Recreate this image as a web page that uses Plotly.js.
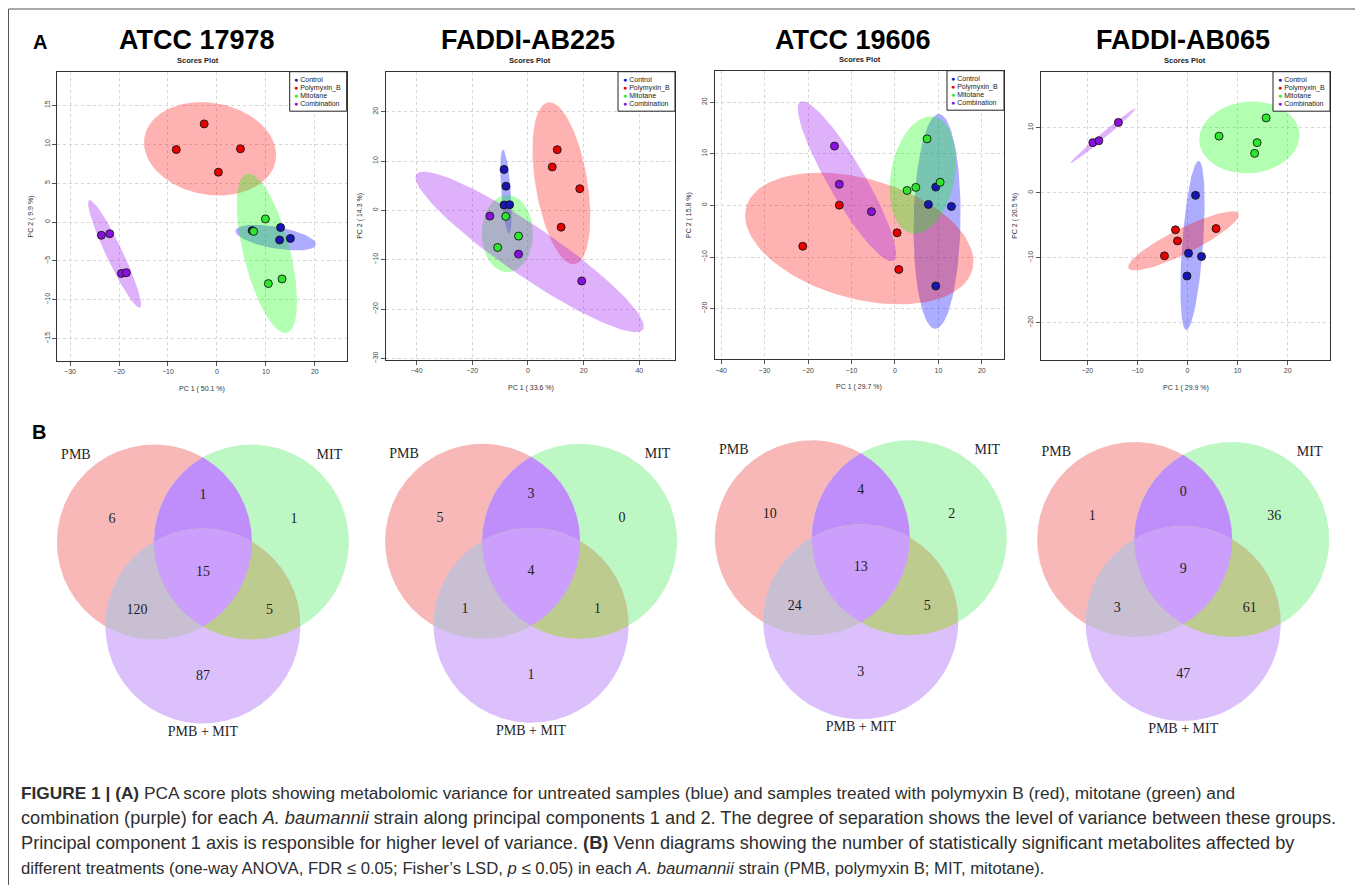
<!DOCTYPE html>
<html><head><meta charset="utf-8">
<script src="https://cdn.plot.ly/plotly-3.0.1.min.js"></script>
<style>html,body{margin:0;padding:0;background:#fff}#chart{width:1355px;height:885px}</style>
</head><body><div id="chart"></div>
<script>
const W = 1355, H = 885;

// ---------- DATA ----------
const strains = ["ATCC 17978", "FADDI-AB225", "ATCC 19606", "FADDI-AB065"];
const groups = ["Control", "Polymyxin_B", "Mitotane", "Combination"];
const pc1Titles = ["PC 1 ( 50.1 %)", "PC 1 ( 33.6 %)", "PC 1 ( 29.7 %)", "PC 1 ( 29.9 %)"];
const pc2Titles = ["PC 2 ( 9.9 %)", "PC 2 ( 14.3 %)", "PC 2 ( 15.8 %)", "PC 2 ( 20.5 %)"];

// PCA scores, per group [Control, Polymyxin_B, Mitotane, Combination]
const pc1_17978 = [[7.2, 13.0, 12.8, 15.0], [-8.3, -2.6, 4.8, 0.3], [9.9, 7.5, 10.5, 13.3], [-23.6, -21.9, -19.5, -18.5]];
const pc2_17978 = [[-1.1, -0.7, -2.3, -2.1], [9.3, 12.6, 9.4, 6.4], [0.4, -1.2, -7.9, -7.3], [-1.7, -1.5, -6.6, -6.5]];
const pc1_AB225 = [[-8.6, -7.9, -8.6, -6.6], [10.5, 8.7, 18.6, 11.9], [-8.0, -3.4, -10.9], [-13.7, -3.4, 19.3]];
const pc2_AB225 = [[8.3, 4.9, 1.1, 1.15], [12.3, 8.8, 4.4, -3.4], [-1.2, -5.2, -7.5], [-1.15, -8.85, -14.3]];
const pc1_19606 = [[9.4, 7.7, 13.0, 9.4], [-12.8, -21.2, 0.5, 0.9], [7.4, 2.8, 4.8, 10.4], [-13.9, -12.8, -5.4]];
const pc2_19606 = [[3.55, 0.2, -0.2, -15.6], [0.06, -7.9, -5.3, -12.4], [12.9, 2.9, 3.5, 4.5], [11.5, 4.1, -1.2]];
const pc1_AB065 = [[1.6, 0.2, 2.8, -0.1], [-2.4, -2.0, -4.6, 5.7], [6.3, 15.7, 13.9, 13.4], [-18.9, -17.7, -13.8]];
const pc2_AB065 = [[-0.4, -9.3, -9.8, -12.8], [-5.7, -7.4, -9.7, -5.5], [8.7, 11.5, 7.7, 6.05], [7.7, 8.0, 10.8]];

// 95% confidence ellipses per group: [centre x, centre y, axis1 x, axis1 y, axis2 x, axis2 y]
const ell_17978 = [[12.0, -2.0, 8.2, -0.9, -0.37, -1.37], [-1.4, 9.4, 13.4, -1.5, -1.6, -5.8], [10.2, -4.0, 4.1, -10.2, 4.6, 0.75], [-20.9, -4.1, 5.2, -6.9, 1.5, 0.48]];
const ell_AB225 = [[-7.9, 3.8, 1.1, -8.5, 1.7, 0.1], [12.0, 5.5, 4.8, -16.4, 9.2, 0.86], [-7.4, -4.7, 9.2, 0, 0, -7.8], [0.6, -8.4, 40.7, -15.7, -5.0, -4.2]];
const ell_19606 = [[9.7, -3.1, 0.4, 20.8, 5.4, 0], [-8.2, -6.4, 26.0, -6.1, -3.7, -11.2], [6.4, 5.9, 2.5, 11.3, 7.2, -1.1], [-11.05, 4.7, 10.7, -15.4, 3.6, 1.8]];
const ell_AB065 = [[1.0, -8.1, 1.2, 13.0, 2.1, 0.15], [-0.8, -7.4, 11.0, 4.2, 1.1, -1.74], [12.35, 8.5, 10.0, 0.5, -0.3, 5.5], [-16.8, 8.8, 6.5, 4.2, 0.35, -0.31]];

// Venn diagrams
const vennSets = ["PMB", "MIT", "PMB + MIT"];
// counts: [PMB only, PMB∩MIT, MIT only, all three, PMB∩(PMB+MIT), MIT∩(PMB+MIT), (PMB+MIT) only]
const venn_17978 = [6, 1, 1, 15, 120, 5, 87];
const venn_AB225 = [5, 3, 0, 4, 1, 1, 1];
const venn_19606 = [10, 4, 2, 13, 24, 5, 3];
const venn_AB065 = [1, 0, 36, 9, 3, 61, 47];

// ---------- LAYOUT / STYLE ----------
const pc1All = [pc1_17978, pc1_AB225, pc1_19606, pc1_AB065];
const pc2All = [pc2_17978, pc2_AB225, pc2_19606, pc2_AB065];
const ellAll = [ell_17978, ell_AB225, ell_19606, ell_AB065];
const vennAll = [venn_17978, venn_AB225, venn_19606, venn_AB065];

const boxes = [
  {l: 57.3, r: 346.7, t: 71.7, b: 360.7, xr: [-32.6, 26.5], yr: [-17.8, 19.3], dx: 10, dy: 5},
  {l: 386, r: 675, t: 71.7, b: 360, xr: [-51, 52.8], yr: [-30.3, 28.1], dx: 20, dy: 10},
  {l: 715, r: 1004, t: 70.7, b: 359.3, xr: [-41.4, 25.1], yr: [-29.8, 26.1], dx: 10, dy: 10},
  {l: 1041, r: 1330, t: 71.7, b: 360, xr: [-29.25, 28.45], yr: [-25.7, 18.6], dx: 10, dy: 10}
];
const titleX = [197, 528, 853, 1183];
const scoresX = [198, 530, 860, 1185];

const markerColors = ["#1616b4", "#e60000", "#2ee62e", "#8a10e0"];
const ellColors = ["rgba(0,0,255,0.32)", "rgba(255,0,0,0.30)", "rgba(0,255,0,0.30)", "rgba(160,32,240,0.35)"];

const PX = v => v / W;
const PY = v => 1 - v / H;

const traces = [];
const layout = {
  width: W, height: H,
  margin: {l: 0, r: 0, t: 0, b: 0},
  paper_bgcolor: "#fff",
  plot_bgcolor: "rgba(0,0,0,0)",
  showlegend: false,
  font: {family: "Liberation Sans, Arial, sans-serif", color: "#333"},
  annotations: [],
  shapes: []
};

boxes.forEach((bx, i) => {
  const sfx = i === 0 ? "" : String(i + 1);
  const xa = "xaxis" + sfx, ya = "yaxis" + sfx;
  const axCommon = {
    showline: true, mirror: true, linecolor: "#333", linewidth: 1,
    ticks: "outside", ticklen: 4, tickcolor: "#555", tickwidth: 1,
    tickfont: {size: 7, color: "#444"},
    showgrid: true, gridcolor: "#d6d6d6", gridwidth: 1, griddash: "dot",
    zeroline: false, fixedrange: true
  };
  layout[xa] = Object.assign({}, axCommon, {
    domain: [PX(bx.l), PX(bx.r)], range: bx.xr, anchor: "y" + sfx, dtick: bx.dx, tick0: 0
  });
  layout[ya] = Object.assign({}, axCommon, {
    domain: [PY(bx.b), PY(bx.t)], range: bx.yr, anchor: "x" + sfx, dtick: bx.dy, tick0: 0, tickangle: -90
  });
  // ellipses
  ellAll[i].forEach((e, g) => {
    const ex = [], ey = [];
    for (let k = 0; k <= 120; k++) {
      const t = k / 120 * 2 * Math.PI;
      ex.push(e[0] + e[2] * Math.cos(t) + e[4] * Math.sin(t));
      ey.push(e[1] + e[3] * Math.cos(t) + e[5] * Math.sin(t));
    }
    traces.push({type: "scatter", mode: "lines", x: ex, y: ey, xaxis: "x" + sfx, yaxis: "y" + sfx,
      fill: "toself", fillcolor: ellColors[g], line: {width: 0}, hoverinfo: "skip", name: groups[g] + " ellipse"});
  });
  // points
  groups.forEach((g, gi) => {
    traces.push({type: "scatter", mode: "markers", x: pc1All[i][gi], y: pc2All[i][gi],
      xaxis: "x" + sfx, yaxis: "y" + sfx, name: g,
      marker: {size: 8, color: markerColors[gi], line: {color: "#151515", width: 0.9}}});
  });
  // titles
  layout.annotations.push({xref: "paper", yref: "paper", x: PX(titleX[i]), y: PY(40), xanchor: "center", yanchor: "middle",
    text: "<b>" + strains[i] + "</b>", showarrow: false, font: {size: 27, color: "#000", family: "Liberation Sans, Arial, sans-serif"}});
  layout.annotations.push({xref: "paper", yref: "paper", x: PX(scoresX[i]), y: PY(bx.t - 11.5), xanchor: "center", yanchor: "middle",
    text: "<b>Scores Plot</b>", showarrow: false, font: {size: 7.5, color: "#222"}});
  layout.annotations.push({xref: "paper", yref: "paper", x: PX((bx.l + bx.r) / 2), y: PY(bx.b + 28), xanchor: "center", yanchor: "middle",
    text: pc1Titles[i], showarrow: false, font: {size: 7, color: "#333"}});
  layout.annotations.push({xref: "paper", yref: "paper", x: PX(bx.l - 26), y: PY((bx.t + bx.b) / 2), xanchor: "center", yanchor: "middle",
    text: pc2Titles[i], textangle: -90, showarrow: false, font: {size: 7, color: "#333"}});
  // legend box
  const lx0 = bx.r - 57, ly0 = bx.t;
  layout.shapes.push({type: "rect", xref: "paper", yref: "paper", x0: PX(lx0), x1: PX(bx.r), y0: PY(ly0 + 39.5), y1: PY(ly0),
    line: {color: "#222", width: 1}, fillcolor: "#fff", layer: "above"});
  groups.forEach((g, gi) => {
    layout.annotations.push({xref: "paper", yref: "paper", x: PX(lx0 + 2.5), y: PY(ly0 + 8 + gi * 7.9), xanchor: "left", yanchor: "middle",
      text: '<span style="color:' + markerColors[gi] + '">●</span> ' + g, showarrow: false, font: {size: 7, color: "#222"}});
  });
});

// ---------- VENN ----------
layout.xaxis5 = {domain: [0, 1], range: [0, W], anchor: "y5", visible: false, fixedrange: true};
layout.yaxis5 = {domain: [PY(760), PY(400)], range: [760, 400], anchor: "x5", visible: false, fixedrange: true};

const vennCentres = [[202.9, 542], [531.1, 541.3], [860.8, 537.8], [1183.2, 539.5]];
const R = 97.5, HS = 48.5, DY = 84;
const regionColours = {A: "#f8b8b8", B: "#bdf8c4", C: "#dbc0fc", AB: "#c08efb", AC: "#c8bfd3", BC: "#bdcb8f", ABC: "#cb9ffb"};
const countOffsets = [[-91, -23], [0, -47], [91, -23], [0, 30], [-66, 68.5], [66.5, 68.5], [0, 134.5]];
const labelOffsets = [[-127, -87], [126.5, -87], [0, 190]];

function interPoly(circles) {
  const pts = [];
  circles.forEach((c, i) => {
    for (let k = 0; k < 720; k++) {
      const t = k / 720 * 2 * Math.PI;
      const x = c[0] + c[2] * Math.cos(t), y = c[1] + c[2] * Math.sin(t);
      if (circles.every((d, j) => j === i || Math.hypot(x - d[0], y - d[1]) <= d[2] + 1e-9)) pts.push([x, y]);
    }
  });
  let mx = 0, my = 0;
  pts.forEach(p => { mx += p[0]; my += p[1]; });
  mx /= pts.length; my /= pts.length;
  pts.sort((a, b) => Math.atan2(a[1] - my, a[0] - mx) - Math.atan2(b[1] - my, b[0] - mx));
  pts.push(pts[0]);
  return pts;
}

vennCentres.forEach((vc, vi) => {
  const A = [vc[0] - HS, vc[1], R], B = [vc[0] + HS, vc[1], R], C = [vc[0], vc[1] + DY, R];
  const order = [["A", [A]], ["B", [B]], ["C", [C]], ["AB", [A, B]], ["AC", [A, C]], ["BC", [B, C]], ["ABC", [A, B, C]]];
  order.forEach(([key, cs]) => {
    const poly = interPoly(cs);
    traces.push({type: "scatter", mode: "lines", x: poly.map(p => p[0]), y: poly.map(p => p[1]),
      xaxis: "x5", yaxis: "y5", fill: "toself", fillcolor: regionColours[key], line: {width: 0, color: regionColours[key]},
      hoverinfo: "skip", name: key});
  });
  traces.push({type: "scatter", mode: "text", xaxis: "x5", yaxis: "y5",
    x: countOffsets.map(o => vc[0] + o[0]), y: countOffsets.map(o => vc[1] + o[1]),
    text: vennAll[vi].map(String), textposition: "middle center",
    textfont: {family: "Liberation Serif, Times New Roman, serif", size: 14, color: "#1e1e1e"}, hoverinfo: "skip", name: "counts"});
  traces.push({type: "scatter", mode: "text", xaxis: "x5", yaxis: "y5",
    x: labelOffsets.map(o => vc[0] + o[0]), y: labelOffsets.map(o => vc[1] + o[1]),
    text: vennSets, textposition: "middle center",
    textfont: {family: "Liberation Serif, Times New Roman, serif", size: 14, color: "#1e1e1e"}, hoverinfo: "skip", name: "sets"});
});

// panel letters
layout.annotations.push({xref: "paper", yref: "paper", x: PX(39.5), y: PY(42), xanchor: "center", yanchor: "middle",
  text: "<b>A</b>", showarrow: false, font: {size: 20, color: "#000"}});
layout.annotations.push({xref: "paper", yref: "paper", x: PX(38.5), y: PY(431.7), xanchor: "center", yanchor: "middle",
  text: "<b>B</b>", showarrow: false, font: {size: 20, color: "#000"}});

// frame
layout.shapes.push({type: "line", xref: "paper", yref: "paper", x0: PX(8.5), x1: 1, y0: PY(9), y1: PY(9), line: {color: "#555", width: 1}});
layout.shapes.push({type: "line", xref: "paper", yref: "paper", x0: PX(8.5), x1: PX(8.5), y0: PY(9), y1: 0, line: {color: "#555", width: 1}});

// caption
const captionLines = [
  "<b>FIGURE 1 | (A)</b> PCA score plots showing metabolomic variance for untreated samples (blue) and samples treated with polymyxin B (red), mitotane (green) and",
  "combination (purple) for each <i>A. baumannii</i> strain along principal components 1 and 2. The degree of separation shows the level of variance between these groups.",
  "Principal component 1 axis is responsible for higher level of variance. <b>(B)</b> Venn diagrams showing the number of statistically significant metabolites affected by",
  "different treatments (one-way ANOVA, FDR ≤ 0.05; Fisher’s LSD, <i>p</i> ≤ 0.05) in each <i>A. baumannii</i> strain (PMB, polymyxin B; MIT, mitotane)."
];
const captionSizes = [17.3, 18.2, 18.2, 16.7];
captionLines.forEach((t, k) => {
  layout.annotations.push({xref: "paper", yref: "paper", x: PX(19), y: PY(793 + k * 25), xanchor: "left", yanchor: "middle",
    text: t, showarrow: false, font: {size: captionSizes[k], color: "#2e2e2e", family: "Liberation Sans, Arial, sans-serif"}});
});

Plotly.newPlot("chart", traces, layout, {displayModeBar: false, staticPlot: true});
</script>
</body></html>
